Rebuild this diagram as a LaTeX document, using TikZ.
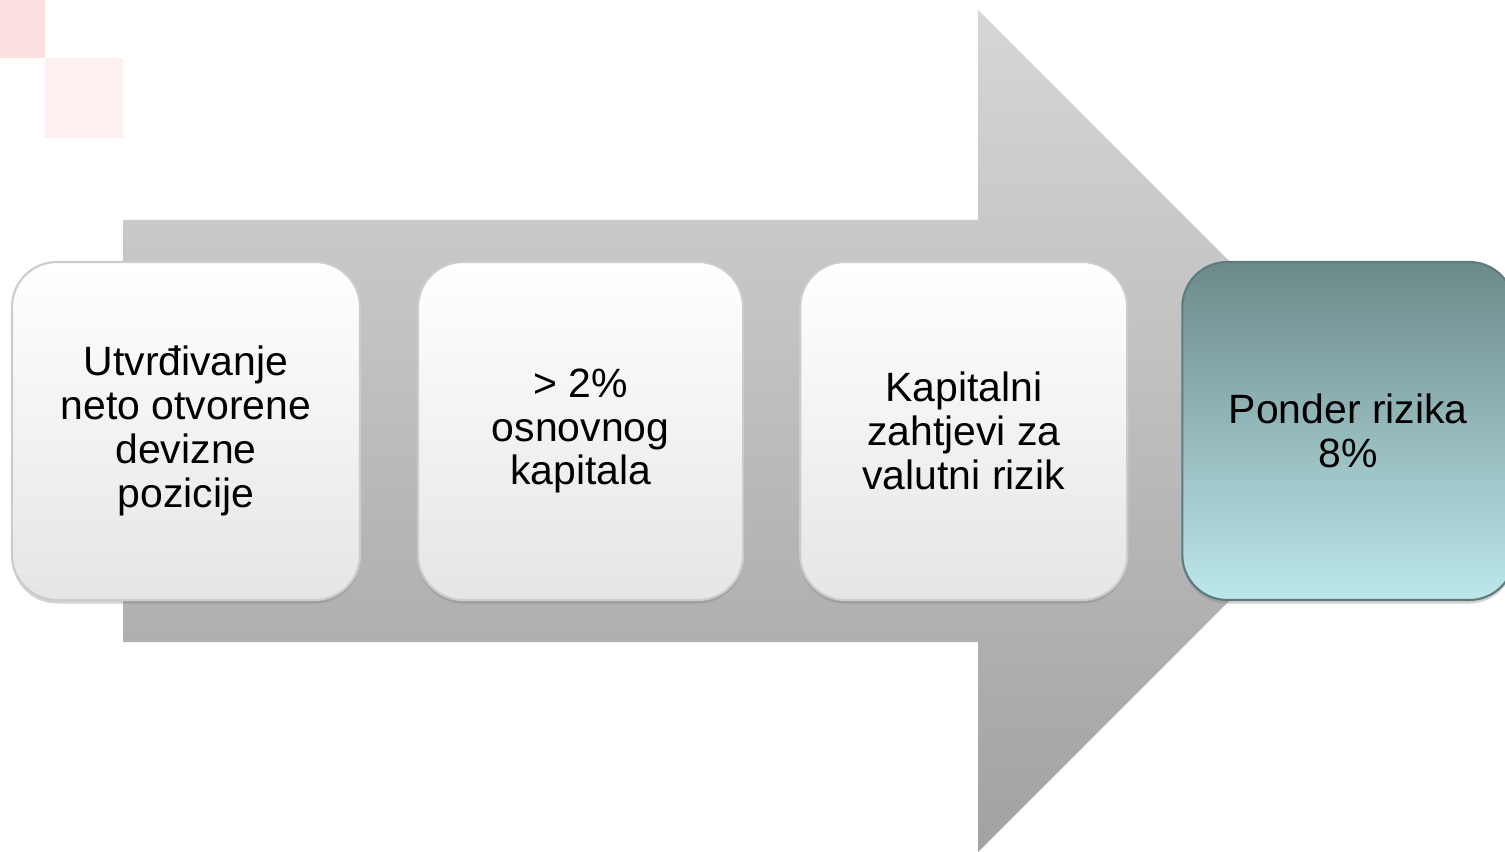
\documentclass[tikz,border=0pt]{standalone}
\usepackage{fontspec}
\setmainfont{Liberation Sans}
\usepackage{tikz}
\usetikzlibrary{positioning, shadows}
\definecolor{arrowtop}{HTML}{D6D6D6}
\definecolor{arrowbot}{HTML}{A2A2A2}
\definecolor{tealtop}{HTML}{6D8A8A}
\definecolor{tealbot}{HTML}{BCE8EC}
\definecolor{tealedge}{HTML}{5E7C7D}
\definecolor{pinkdark}{HTML}{FDE1E1}
\definecolor{pinklight}{HTML}{FFF0F0}
\tikzset{
  stepbox/.style={
    rectangle, 
    rounded corners=0.9cm,
    minimum height=6.76cm, 
    align=center, 
    draw=gray!40,
    line width=1.2pt,
    top color=white,
    bottom color=gray!20,
    font=\fontsize{23.3}{25}\selectfont,
    drop shadow={opacity=0.35, shadow xshift=0pt, shadow yshift=-2pt}
    },
  lastbox/.style={
    stepbox,
    top color=tealtop,
    bottom color=tealbot,
    draw=tealedge
    },
  bigarrow/.style={
    top color=arrowtop,
    bottom color=arrowbot
    }
}

\begin{document}
\begin{tikzpicture}
\useasboundingbox (0,0) rectangle (30.1,-17.04);
% corner decoration
\fill[pinkdark] (0,0) rectangle (0.9,-1.16);
\fill[pinklight] (0.9,-1.16) rectangle (2.46,-2.76);
% big arrow behind the steps
\shade[bigarrow] (2.46,-4.4) -- (19.56,-4.4) -- (19.56,-0.2) -- (27.98,-8.62)
  -- (19.56,-17.04) -- (19.56,-12.84) -- (2.46,-12.84) -- cycle;
% steps
\node (utvrd) [stepbox, minimum width=6.96cm] at (3.72,-8.62)
  {Utvrđivanje\\neto otvorene\\devizne\\pozicije};
\node (prag) [stepbox, minimum width=6.5cm, right=1.12cm of utvrd]
  {> 2\%\\osnovnog\\kapitala};
\node (zahtjev) [stepbox, minimum width=6.54cm, right=1.1cm of prag]
  {Kapitalni\\zahtjevi za\\valutni rizik};
\node (ponder) [lastbox, minimum width=6.64cm, right=1.06cm of zahtjev]
  {Ponder rizika\\8\%};
\end{tikzpicture}
\end{document}
